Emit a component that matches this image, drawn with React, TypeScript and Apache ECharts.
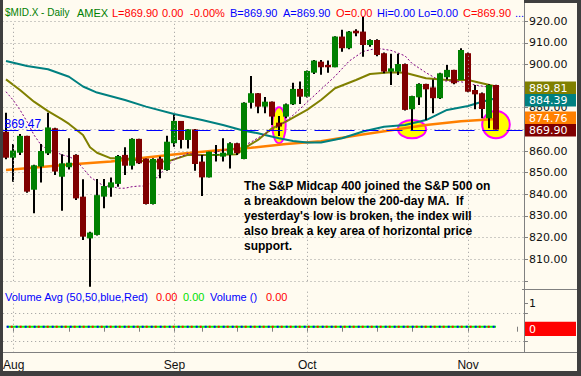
import React, { useEffect, useRef } from "react";
import * as echarts from "echarts";

// ---------- data ----------
const dates = [
  "2007-07-31",
  "2007-08-01","2007-08-02","2007-08-03","2007-08-06","2007-08-07","2007-08-08","2007-08-09","2007-08-10",
  "2007-08-13","2007-08-14","2007-08-15","2007-08-16","2007-08-17","2007-08-20","2007-08-21","2007-08-22",
  "2007-08-23","2007-08-24","2007-08-27","2007-08-28","2007-08-29","2007-08-30","2007-08-31",
  "2007-09-04","2007-09-05","2007-09-06","2007-09-07","2007-09-10","2007-09-11","2007-09-12","2007-09-13",
  "2007-09-14","2007-09-17","2007-09-18","2007-09-19","2007-09-20","2007-09-21","2007-09-24","2007-09-25",
  "2007-09-26","2007-09-27","2007-09-28",
  "2007-10-01","2007-10-02","2007-10-03","2007-10-04","2007-10-05","2007-10-08","2007-10-09","2007-10-10",
  "2007-10-11","2007-10-12","2007-10-15","2007-10-16","2007-10-17","2007-10-18","2007-10-19","2007-10-22",
  "2007-10-23","2007-10-24","2007-10-25","2007-10-26","2007-10-29","2007-10-30","2007-10-31",
  "2007-11-01","2007-11-02","2007-11-05","2007-11-06","2007-11-07","2007-11-08","2007-11-09","2007-11-12",
  "2007-11-13",
];

const opens = [
  868.9, 856.9, 859.2, 867.0, 842.1, 852.8, 858.9, 870.5, 848.1, 852.5,
  858.2, 838.9, 819.6, 821.2, 838.9, 843.1, 844.8, 858.2, 853.2, 865.6,
  856.5, 835.5, 856.5, 851.2, 863.6, 873.9, 865.1, 870.0, 855.1, 847.8,
  858.0, 857.4, 858.2, 863.6, 856.3, 882.3, 886.7, 880.5, 882.8, 873.1,
  875.9, 881.6, 888.7, 885.1, 896.2, 901.3, 899.8, 898.7, 912.9, 907.5,
  915.6, 915.2, 909.0, 911.3, 905.2, 896.7, 896.7, 900.2, 879.3, 884.8,
  891.0, 889.4, 884.4, 894.1, 897.5, 892.8, 905.2, 888.2, 886.7, 875.1,
  890.5,
];
const closes = [
  856.9, 860.2, 867.0, 841.2, 853.4, 860.0, 870.9, 850.5, 854.3, 854.6,
  838.1, 820.4, 822.3, 839.6, 843.8, 845.5, 857.7, 853.2, 865.6, 854.3,
  835.5, 856.3, 851.5, 864.3, 873.9, 865.1, 870.0, 854.0, 847.8, 859.7,
  858.6, 859.2, 863.6, 859.0, 882.3, 886.7, 880.5, 882.8, 875.9, 871.3,
  881.6, 888.7, 885.1, 897.0, 901.8, 898.7, 898.7, 912.9, 907.5, 915.2,
  914.4, 909.0, 911.3, 904.4, 896.7, 898.2, 900.2, 879.0, 885.4, 891.0,
  888.5, 884.4, 895.9, 897.5, 891.3, 906.7, 887.4, 886.2, 879.4, 890.5,
  869.9,
];
const lows = [
  856.2, 845.8, 858.2, 840.7, 831.2, 845.4, 858.2, 848.9, 832.4, 851.5,
  837.4, 818.9, 797.3, 820.9, 833.5, 838.9, 843.5, 848.9, 851.5, 854.0,
  835.3, 835.3, 847.4, 850.9, 862.0, 861.2, 861.2, 850.9, 839.2, 847.8,
  855.1, 855.1, 851.9, 858.2, 856.2, 879.7, 877.4, 877.4, 872.0, 866.9,
  875.1, 881.3, 881.7, 884.7, 895.6, 895.2, 896.2, 898.7, 905.9, 907.0,
  913.0, 903.6, 908.2, 903.8, 895.9, 890.5, 895.1, 878.7, 869.4, 881.3,
  874.3, 877.4, 884.0, 893.1, 890.8, 892.8, 887.1, 879.3, 875.1, 870.5,
  869.9,
];
const highs = [
  877.7, 863.2, 867.9, 867.1, 853.6, 863.2, 877.7, 870.8, 858.5, 865.9,
  858.5, 846.9, 822.7, 847.1, 847.1, 847.8, 858.2, 861.7, 865.9, 865.7,
  856.5, 856.6, 857.4, 867.0, 876.7, 873.9, 870.0, 870.2, 858.2, 859.7,
  862.8, 865.9, 864.0, 863.8, 882.5, 894.7, 886.8, 885.0, 882.9, 876.2,
  882.0, 891.6, 892.1, 897.2, 902.1, 902.1, 901.8, 913.0, 916.0, 915.5,
  916.3, 922.1, 911.6, 911.6, 905.5, 904.9, 904.9, 900.5, 885.5, 891.3,
  891.1, 893.1, 896.2, 899.8, 897.6, 907.5, 905.5, 890.5, 887.0, 890.8,
  890.6,
];

// moving-average lines, read at sample bars: [bar index, value]
const ma10 = [
  [0, 887.4], [1, 883.6], [2, 879.0], [3, 873.6], [4, 867.4], [5, 862.8], [6, 860.5], [7, 859.7],
  [8, 858.2], [9, 857.4], [10, 855.8], [11, 852.0], [12, 848.1], [13, 845.8], [14, 843.8], [15, 843.8],
  [16, 842.8], [17, 842.8], [18, 843.5], [19, 843.8], [20, 843.8], [21, 845.8], [22, 849.4], [23, 852.8],
  [24, 856.2], [25, 857.4], [26, 858.9], [28, 857.8], [31, 860.4], [33, 861.1], [35, 864.1], [37, 868.0],
  [39, 871.5], [41, 876.5], [43, 882.5], [45, 888.5], [47, 894.5], [49, 901.5], [51, 906.0], [53, 907.5],
  [55, 906.5], [57, 904.0], [58, 900.5], [60, 896.2], [62, 892.5], [65, 892.0], [67, 890.5], [69, 889.5],
  [70, 888.9],
];
const ma20 = [
  [0, 893.1], [2, 888.2], [4, 882.8], [6, 878.4], [8, 874.6], [9, 872.5], [11, 867.4], [12, 861.7],
  [13, 859.2], [15, 856.6], [17, 856.6], [20, 855.1], [23, 855.1], [26, 858.2], [30, 858.2], [33, 858.5],
  [34, 861.2], [36, 865.1], [38, 870.5], [40, 873.6], [43, 879.0], [45, 883.6], [47, 889.0], [50, 892.8],
  [52, 895.6], [55, 896.4], [57, 896.2], [60, 893.6], [63, 892.8], [66, 892.8], [68, 891.3], [70, 889.81],
];
const ma50 = [
  [0, 901.6], [3, 899.3], [6, 897.8], [9, 894.3], [11, 889.8], [13, 887.0], [17, 883.6], [20, 880.5],
  [24, 877.1], [28, 874.3], [31, 872.0], [34, 869.4], [36, 868.2], [37, 867.4], [39, 865.9], [41, 864.6],
  [43, 863.9], [45, 863.9], [48, 865.9], [51, 869.0], [54, 871.2], [57, 872.0], [60, 874.3], [63, 879.0],
  [66, 880.8], [68, 882.8], [70, 884.39],
];
const ma200 = [
  [0, 851.2], [5, 852.6], [10, 854.0], [15, 855.2], [20, 857.0], [25, 858.7], [30, 860.2], [35, 861.5],
  [40, 863.2], [45, 864.5], [50, 867.2], [55, 869.6], [60, 872.0], [65, 873.8], [70, 874.76],
];
const volumeAvgBlue = [[0, 0], [70, 0]];
const volumeAvgRed = [[0, 0], [70, 0]];
const volume = [[0, 0], [70, 0]];

const supportLevel = 869.47;
const lastClose = 869.9;
const monthTickIdx = [1, 24, 43, 66];
const monthNames = ["Aug", "Sep", "Oct", "Nov"];
const weekTickIdx = [1, 9, 14, 19, 24, 28, 33, 38, 43, 48, 53, 58, 66, 73];
const priceTicks = [800, 920, 10];
const volumeGridValues = [0.57, -0.64];
const highlightIdx = [39, 58, 70];
const highlightPrice = [871.9, 870.1, 872.2];

const headerParts = [
  "$MID.X - Daily", "AMEX", "L=869.90", "0.00", "-0.00%", "B=869.90", "A=869.90",
  "O=0.00", "Hi=0.00", "Lo=0.00", "C=869.90", "...",
];
const volumeLegend = ["Volume Avg (50,50,blue,Red)", "0.00", "0.00", "Volume ()", "0.00"];
const note = [
  "The S&P Midcap 400 joined the S&P 500 on",
  "a breakdown below the 200-day MA.  If",
  "yesterday's low is broken, the index will",
  "also break a key area of horizontal price",
  "support.",
];

// ---------- styles ----------
const BG = "#fffbf0";
const FRAME = "#3f3f3f";
const GRID = "#9a9a9a";
const AXIS = "#808080";
const UP = "#008000";
const DOWN = "#800000";
const SANS = "Liberation Sans, Arial, sans-serif";
const AXF = "DejaVu Sans, Verdana, sans-serif";

export default function App() {
  const ref = useRef<HTMLDivElement>(null);

  useEffect(() => {
    const chart = echarts.init(ref.current as HTMLDivElement, null, {
      renderer: "svg",
      width: 581,
      height: 376,
    });

    const candleData = opens.map((o, i) => [i, o, closes[i], lows[i], highs[i]]);
    const monthLines = monthTickIdx.map((i) => ({ xAxis: dates[i] }));
    const dotted = { color: GRID, width: 1, type: [1, 3] as any };

    const option: any = {
      animation: false,
      backgroundColor: BG,
      grid: [
        { left: 2.5, width: 525, top: 21.2, height: 259.6 },
        { left: 2.5, width: 525, top: 289, height: 63.7 },
      ],
      xAxis: [
        { type: "category", gridIndex: 0, data: dates, show: false, boundaryGap: true },
        {
          type: "category",
          gridIndex: 1,
          data: dates,
          boundaryGap: true,
          axisLine: { show: false },
          axisTick: {
            show: true,
            alignWithLabel: true,
            length: 5,
            interval: (i: number) => weekTickIdx.includes(i),
            lineStyle: { color: AXIS },
          },
          axisLabel: {
            show: true,
            interval: (i: number) => monthTickIdx.includes(i),
            formatter: (v: string) => {
              const k = monthTickIdx.findIndex((i) => dates[i] === v);
              return k >= 0 ? monthNames[k] : "";
            },
            margin: 6,
            fontFamily: SANS,
            fontSize: 12,
            color: "#111",
          },
          splitLine: { show: false },
        },
      ],
      yAxis: [
        {
          type: "value",
          gridIndex: 0,
          position: "right",
          offset: -3.5,
          min: priceTicks[0],
          max: priceTicks[1],
          interval: priceTicks[2],
          axisLine: { show: false },
          axisTick: { show: true, length: 4, lineStyle: { color: AXIS } },
          axisLabel: {
            margin: 5,
            fontFamily: AXF,
            fontSize: 11,
            color: "#111",
            formatter: (v: number) => (v === priceTicks[0] ? "" : v.toFixed(2)),
          },
          splitLine: { show: true, lineStyle: dotted },
        },
        {
          type: "value",
          gridIndex: 1,
          position: "right",
          offset: -3.5,
          min: -1.11,
          max: 1.61,
          axisLine: { show: false },
          axisTick: { show: true, length: 4, customValues: [1, 0.57, -0.64], lineStyle: { color: AXIS } },
          axisLabel: {
            margin: 5,
            fontFamily: AXF,
            fontSize: 11,
            color: "#111",
            customValues: [1],
            formatter: (v: number) => (v === 1 ? "1" : ""),
          },
          splitLine: { show: false },
        },
      ],
      series: [
        {
          type: "line",
          name: "200",
          xAxisIndex: 0,
          yAxisIndex: 0,
          data: ma200,
          symbol: "none",
          silent: true,
          z: 2,
          lineStyle: { color: "#ff8000", width: 2.5 },
          markLine: {
            silent: true,
            symbol: "none",
            animation: false,
            label: { show: false },
            lineStyle: dotted,
            data: monthLines,
          },
        },
        {
          type: "line",
          name: "50",
          data: ma50,
          symbol: "none",
          silent: true,
          z: 2,
          lineStyle: { color: "#008080", width: 2 },
        },
        {
          type: "line",
          name: "20",
          data: ma20,
          symbol: "none",
          silent: true,
          z: 2,
          lineStyle: { color: "#808000", width: 2 },
        },
        {
          type: "line",
          name: "10",
          data: ma10,
          symbol: "none",
          silent: true,
          z: 2,
          lineStyle: { color: "#800080", width: 1, type: [2, 2] },
          markLine: {
            silent: true,
            symbol: "none",
            animation: false,
            label: {
              show: true,
              position: "insideStartTop",
              distance: [2, 1],
              formatter: () => supportLevel.toFixed(2),
              color: "#0000ff",
              fontFamily: SANS,
              fontSize: 12,
            },
            lineStyle: { color: "#0000ff", width: 1, type: [16, 8] },
            data: [{ yAxis: supportLevel }],
          },
        },
        {
          type: "custom",
          name: "candles",
          xAxisIndex: 0,
          yAxisIndex: 0,
          data: candleData,
          clip: false,
          silent: true,
          z: 3,
          encode: { x: 0, y: [1, 2, 3, 4] },
          renderItem: (params: any, api: any) => {
            const i = api.value(0);
            const o = api.coord([i, api.value(1)]);
            const c = api.coord([i, api.value(2)]);
            const l = api.coord([i, api.value(3)]);
            const h = api.coord([i, api.value(4)]);
            const x = Math.round(o[0]);
            const up = api.value(2) >= api.value(1);
            const top = Math.min(o[1], c[1]);
            const hh = Math.max(1.2, Math.abs(o[1] - c[1]));
            return {
              type: "group",
              children: [
                {
                  type: "line",
                  shape: { x1: x, y1: h[1], x2: x, y2: l[1] },
                  style: { stroke: "#000", lineWidth: 2 },
                },
                {
                  type: "rect",
                  shape: { x: x - 3, y: top, width: 6, height: hh },
                  style: { fill: up ? UP : DOWN },
                },
              ],
            };
          },
        },
        {
          type: "line",
          name: "volume",
          xAxisIndex: 1,
          yAxisIndex: 1,
          data: volume,
          symbol: "none",
          silent: true,
          lineStyle: { color: "#00ff00", width: 2 },
          markLine: {
            silent: true,
            symbol: "none",
            animation: false,
            label: { show: false },
            lineStyle: dotted,
            data: [
              ...monthLines,
              ...volumeGridValues.map((v) => ({ yAxis: v })),
            ],
          },
        },
        {
          type: "line",
          name: "volAvgBlue",
          xAxisIndex: 1,
          yAxisIndex: 1,
          data: volumeAvgBlue,
          symbol: "none",
          silent: true,
          lineStyle: { color: "#0000ff", width: 2, type: [2, 7] },
        },
        {
          type: "line",
          name: "volAvgRed",
          xAxisIndex: 1,
          yAxisIndex: 1,
          data: volumeAvgRed,
          symbol: "none",
          silent: true,
          lineStyle: { color: "#ff0000", width: 2, type: [2, 7], dashOffset: 4.5 },
        },
      ],
    };

    chart.setOption(option);

    const px = (i: number, v: number) =>
      chart.convertToPixel({ xAxisIndex: 0, yAxisIndex: 0 }, [i, v]) as number[];

    const g: any[] = [];
    // highlight ellipses
    const radii = [
      [6.7, 18],
      [14, 9.2],
      [13.8, 13.7],
    ];
    highlightIdx.forEach((idx, k) => {
      const p = px(idx, highlightPrice[k]);
      g.push({
        type: "ellipse",
        z: 1,
        silent: true,
        shape: { cx: p[0], cy: p[1], rx: radii[k][0], ry: radii[k][1] },
        style: { fill: "#ffff00", stroke: "#ff00ff", lineWidth: 2 },
      });
    });

    // frame
    g.push(
      { type: "rect", z: 50, silent: true, shape: { x: 0, y: 0, width: 3, height: 376 }, style: { fill: FRAME } },
      { type: "rect", z: 50, silent: true, shape: { x: 577, y: 0, width: 4, height: 376 }, style: { fill: FRAME } },
      { type: "rect", z: 50, silent: true, shape: { x: 0, y: 371, width: 581, height: 5 }, style: { fill: FRAME } },
      { type: "rect", z: 50, silent: true, shape: { x: 524, y: 0, width: 57, height: 3 }, style: { fill: FRAME } },
      { type: "line", z: 20, silent: true, shape: { x1: 524.5, y1: 3, x2: 524.5, y2: 353 }, style: { stroke: AXIS, lineWidth: 1 } },
      { type: "line", z: 20, silent: true, shape: { x1: 3, y1: 352.5, x2: 577, y2: 352.5 }, style: { stroke: AXIS, lineWidth: 1 } },
      { type: "line", z: 20, silent: true, shape: { x1: 522, y1: 289.5, x2: 577, y2: 289.5 }, style: { stroke: AXIS, lineWidth: 1 } }
    );

    // right-side value boxes
    const boxes = [
      { v: ma20[ma20.length - 1][1], c: "#808000", y: 81.5 },
      { v: ma50[ma50.length - 1][1], c: "#008080", y: 94 },
      { v: ma200[ma200.length - 1][1], c: "#ff8000", y: 111.5 },
      { v: lastClose, c: DOWN, y: 124 },
    ];
    boxes.forEach((b) => {
      g.push({
        type: "rect", z: 30, silent: true,
        shape: { x: 525, y: b.y, width: 51, height: 12.5 },
        style: { fill: b.c },
      });
      g.push({
        type: "text", z: 31, silent: true, x: 529, y: b.y + 6.5,
        style: { text: b.v.toFixed(2), fill: "#fff", font: `11px ${AXF}`, verticalAlign: "middle" },
      });
    });
    g.push({
      type: "rect", z: 30, silent: true,
      shape: { x: 525, y: 321.7, width: 51, height: 14.3 },
      style: { fill: "#ff0000" },
    });
    g.push({
      type: "text", z: 31, silent: true, x: 529, y: 329,
      style: { text: "0", fill: "#fff", font: `11px ${AXF}`, verticalAlign: "middle" },
    });

    // header
    const hdrX = [5, 77, 112, 162, 190, 230, 283, 336, 377, 418, 463, 515];
    const hdrC = ["#008000", "#008000", "#ff0000", "#ff0000", "#ff0000", "#0000ff", "#0000ff",
      "#ff0000", "#0000ff", "#0000ff", "#ff0000", "#0000ff"];
    headerParts.forEach((t, k) => {
      g.push({
        type: "text", z: 40, silent: true, x: hdrX[k], y: 12.5,
        style: {
          text: t,
          fill: hdrC[k],
          font: `${k === 0 ? 10 : 11}px ${SANS}`,
          verticalAlign: "middle",
        },
      });
    });

    // volume legend
    const volX = [5, 156, 183, 210, 266];
    const volC = ["#0000ff", "#ff0000", "#00e000", "#0000ff", "#ff0000"];
    volumeLegend.forEach((t, k) => {
      g.push({
        type: "text", z: 40, silent: true, x: volX[k], y: 296.7,
        style: { text: t, fill: volC[k], font: `11px ${SANS}`, verticalAlign: "middle" },
      });
    });

    // annotation
    g.push({
      type: "text", z: 40, silent: true, x: 244, y: 178.2,
      style: {
        text: note.join("\n"),
        fill: "#000",
        font: `bold 12px ${SANS}`,
        lineHeight: 15,
        verticalAlign: "top",
      },
    });

    chart.setOption({ graphic: g });

    return () => chart.dispose();
  }, []);

  return (
    <div
      ref={ref}
      style={{ position: "absolute", left: 0, top: 0, width: 581, height: 376 }}
    />
  );
}
